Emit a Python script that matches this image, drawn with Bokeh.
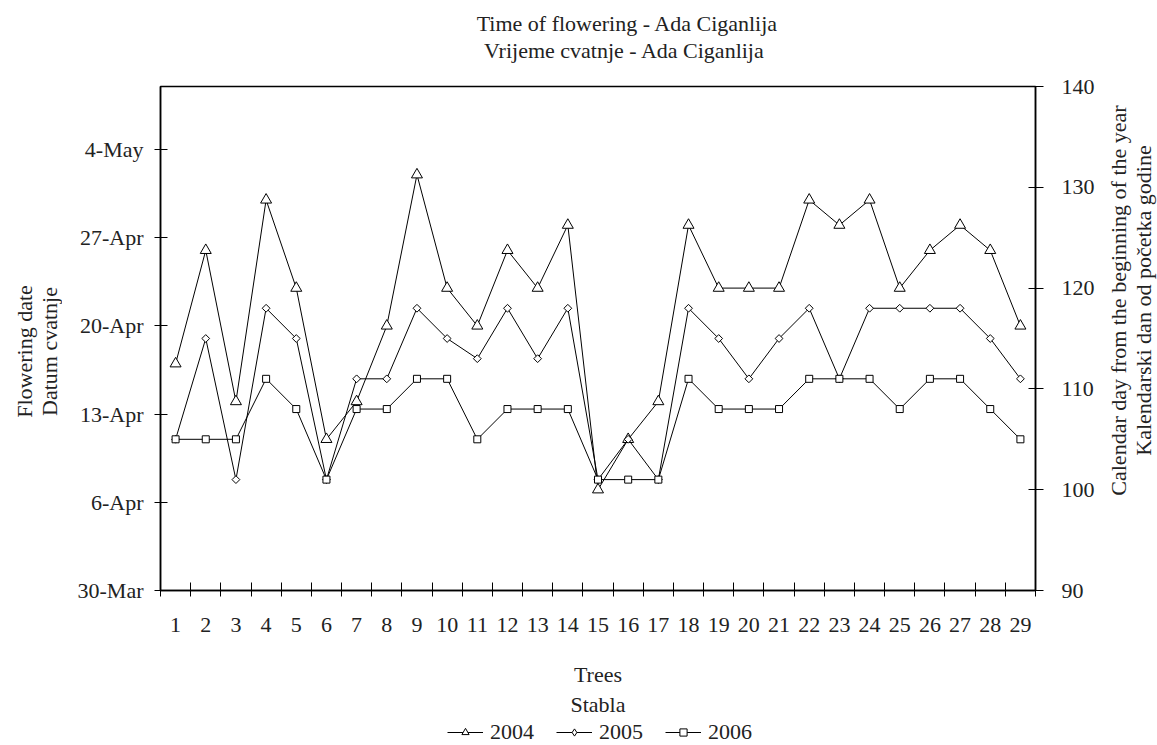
import numpy as np
from bokeh.plotting import figure
from bokeh.layouts import column, row
from bokeh.models import Range1d, LinearAxis, FixedTicker, Legend, LegendItem, Label
from bokeh.embed import file_html
from bokeh.resources import INLINE

# ---- data ----
trees = list(range(1, 30))
tree_labels = [str(t) for t in trees]
# 2004: day of year in 2004 (plotted against the date axis, 30-Mar = day 90)
y2004 = [108, 117, 105, 121, 114, 102, 105, 111, 123, 114, 111, 117, 114, 119, 98,
         102, 105, 119, 114, 114, 114, 121, 119, 121, 114, 117, 119, 117, 111]
# 2005, 2006: calendar day (right axis)
y2005 = [105, 115, 101, 118, 115, 101, 111, 111, 118, 115, 113, 118, 113, 118, 101,
         105, 101, 118, 115, 111, 115, 118, 111, 118, 118, 118, 118, 115, 111]
y2006 = [105, 105, 105, 111, 108, 101, 108, 108, 111, 111, 105, 108, 108, 108, 101,
         101, 101, 111, 108, 108, 108, 111, 111, 111, 108, 111, 111, 108, 105]
date_ticks = [90, 97, 104, 111, 118, 125]
date_tick_labels = ["30-Mar", "6-Apr", "13-Apr", "20-Apr", "27-Apr", "4-May"]
day_ticks = [90, 100, 110, 120, 130, 140]
series_names = ["2004", "2005", "2006"]
title_lines = ["Time of flowering - Ada Ciganlija", "Vrijeme cvatnje - Ada Ciganlija"]
left_title = ["Flowering date", "Datum cvatnje"]
right_title = ["Calendar day from the beginning of the year", "Kalendarski dan od početka godine"]
x_title = "Trees\nStabla"

FONT = "Liberation Serif"
FS = "22px"
INK = "#222222"


def blank(w, h):
    f = figure(width=w, height=h, output_backend="svg", toolbar_location=None, tools="",
               x_range=Range1d(-1, 0), y_range=Range1d(-1, 0), title=None,
               x_axis_location=None, y_axis_location=None, min_border=0)
    f.grid.visible = False
    f.outline_line_color = None
    f.background_fill_color = "white"
    f.border_fill_color = "white"
    return f


def label(f, txt, x, y, angle=0.0):
    f.add_layout(Label(x=x, y=y, x_units="screen", y_units="screen", text=txt,
                       text_font=FONT, text_font_size=FS, text_color=INK,
                       text_align="center", text_baseline="middle", angle=angle))


# ---- top: title ----
p_top = blank(1157, 70)
label(p_top, title_lines[0], 627, 47)
label(p_top, title_lines[1], 624, 20)

# ---- left / right: axis titles (frames are aligned with the main frame) ----
p_left = blank(62, 650)
label(p_left, left_title[0], 24, 239, np.pi / 2)
label(p_left, left_title[1], 49, 239, np.pi / 2)

p_right = blank(57, 650)
label(p_right, right_title[0], 18, 290, np.pi / 2)
label(p_right, right_title[1], 43, 290, np.pi / 2)

# ---- main chart ----
p = figure(width=1038, height=650, output_backend="svg", toolbar_location=None, tools="",
           x_range=Range1d(0.5, 29.5), y_range=Range1d(90, 130), title=None,
           min_border_left=98, min_border_right=65, min_border_top=16, min_border_bottom=129)
p.xgrid.visible = False
p.ygrid.visible = False
p.outline_line_color = "black"
p.outline_line_width = 1.5
p.background_fill_color = "white"
p.border_fill_color = "white"
p.extra_y_ranges = {"day": Range1d(90, 140)}

xa = p.xaxis[0]
xa.ticker = FixedTicker(ticks=trees, minor_ticks=[t + 0.5 for t in range(0, 30)])
xa.major_label_overrides = {t: l for t, l in zip(trees, tree_labels)}
xa.major_tick_line_color = None
xa.major_tick_out = 0
xa.major_tick_in = 0
xa.minor_tick_in = 8
xa.minor_tick_out = 6
xa.minor_tick_line_color = "black"
xa.axis_line_width = 1.5
xa.major_label_standoff = 21
xa.major_label_text_font = FONT
xa.major_label_text_font_size = FS
xa.major_label_text_color = INK
xa.axis_label = x_title
xa.axis_label_standoff = 27
xa.axis_label_text_font = FONT
xa.axis_label_text_font_size = FS
xa.axis_label_text_font_style = "normal"
xa.axis_label_text_color = INK
xa.axis_label_text_line_height = 1.22

ya = p.yaxis[0]
ya.ticker = FixedTicker(ticks=date_ticks, minor_ticks=[])
ya.major_label_overrides = {t: l for t, l in zip(date_ticks, date_tick_labels)}
ya.major_tick_in = 7
ya.major_tick_out = 6
ya.axis_line_width = 1.5
ya.major_label_standoff = 11
ya.major_label_text_font = FONT
ya.major_label_text_font_size = FS
ya.major_label_text_color = INK

ra = LinearAxis(y_range_name="day", ticker=FixedTicker(ticks=day_ticks, minor_ticks=[]))
ra.major_tick_in = 7
ra.major_tick_out = 8
ra.axis_line_width = 1.5
ra.major_label_standoff = 18
ra.major_label_text_font = FONT
ra.major_label_text_font_size = FS
ra.major_label_text_color = INK
p.add_layout(ra, "right")

p.line(trees, y2004, line_color="black", line_width=1)
p.scatter(trees, y2004, marker="triangle", size=11, fill_color="white",
          line_color="black", line_width=1)
p.line(trees, y2005, line_color="black", line_width=1, y_range_name="day")
p.scatter(trees, y2005, marker="square", angle=np.pi / 4, size=5.5, fill_color="white",
          line_color="black", line_width=1, y_range_name="day")
p.line(trees, y2006, line_color="black", line_width=1, y_range_name="day")
p.scatter(trees, y2006, marker="square", size=7, fill_color="white",
          line_color="black", line_width=1, y_range_name="day")

# ---- bottom: legend (series repeated outside the strip's visible range) ----
p_bot = blank(1157, 25)
lg = []
for ys, mk in [(y2004, "triangle"), (y2005, "diamond"), (y2006, "square")]:
    ln = p_bot.line(trees, ys, line_color="black", line_width=1)
    sc = p_bot.scatter(trees, ys, marker=mk, size=7, fill_color="white",
                       line_color="black", line_width=1)
    lg.append([ln, sc])
legend = Legend(items=[LegendItem(label=n, renderers=r) for n, r in zip(series_names, lg)],
                orientation="horizontal", location=(447, 0),
                border_line_color=None, background_fill_alpha=0,
                padding=0, margin=0, spacing=22, glyph_width=36, glyph_height=18,
                label_standoff=7, label_text_font=FONT, label_text_font_size=FS,
                label_text_color=INK, label_height=20)
p_bot.add_layout(legend)

layout = column(p_top, row(p_left, p, p_right), p_bot)
open("out.html", "w").write(file_html(layout, INLINE))
